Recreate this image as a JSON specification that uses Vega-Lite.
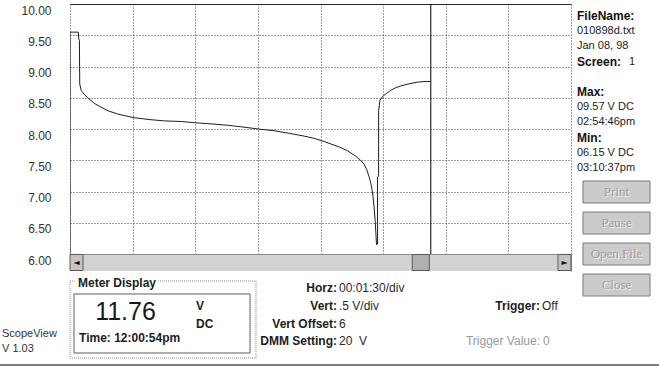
{
  "$schema": "https://vega.github.io/schema/vega-lite/v6.json",
  "background": "white",
  "padding": {"left": 0, "top": 3, "right": 0, "bottom": 0},
  "config": {
    "view": {"stroke": null, "fill": "white"},
    "font": "Liberation Sans",
    "text": {"font": "Liberation Sans", "fontSize": 12, "color": "#1c1c1c", "baseline": "middle", "align": "left"}
  },
  "datasets": {
    "trace": [
      {"i": 0, "t": 0, "v": 6.0}, {"i": 1, "t": 0, "v": 9.55}, {"i": 2, "t": 24, "v": 9.55},
      {"i": 3, "t": 25, "v": 9.44}, {"i": 4, "t": 27, "v": 9.42}, {"i": 5, "t": 28, "v": 8.72},
      {"i": 6, "t": 32, "v": 8.62}, {"i": 7, "t": 40, "v": 8.56}, {"i": 8, "t": 51, "v": 8.50},
      {"i": 9, "t": 70, "v": 8.41}, {"i": 10, "t": 89, "v": 8.35}, {"i": 11, "t": 110, "v": 8.29},
      {"i": 12, "t": 137, "v": 8.24}, {"i": 13, "t": 160, "v": 8.21}, {"i": 14, "t": 185, "v": 8.18},
      {"i": 15, "t": 230, "v": 8.15}, {"i": 16, "t": 271, "v": 8.13}, {"i": 17, "t": 320, "v": 8.12},
      {"i": 18, "t": 360, "v": 8.10}, {"i": 19, "t": 410, "v": 8.08}, {"i": 20, "t": 453, "v": 8.06},
      {"i": 21, "t": 500, "v": 8.03}, {"i": 22, "t": 541, "v": 8.00}, {"i": 23, "t": 590, "v": 7.97},
      {"i": 24, "t": 631, "v": 7.93}, {"i": 25, "t": 670, "v": 7.89}, {"i": 26, "t": 702, "v": 7.85},
      {"i": 27, "t": 730, "v": 7.80}, {"i": 28, "t": 750, "v": 7.76}, {"i": 29, "t": 775, "v": 7.71},
      {"i": 30, "t": 798, "v": 7.65}, {"i": 31, "t": 820, "v": 7.57}, {"i": 32, "t": 835, "v": 7.50},
      {"i": 33, "t": 845, "v": 7.44}, {"i": 34, "t": 853, "v": 7.35}, {"i": 35, "t": 860, "v": 7.23},
      {"i": 36, "t": 866, "v": 7.10}, {"i": 37, "t": 870, "v": 6.96}, {"i": 38, "t": 874, "v": 6.75},
      {"i": 39, "t": 877, "v": 6.55}, {"i": 40, "t": 879, "v": 6.35}, {"i": 41, "t": 881, "v": 6.15},
      {"i": 42, "t": 884, "v": 6.16}, {"i": 43, "t": 884, "v": 7.23}, {"i": 44, "t": 887, "v": 7.25},
      {"i": 45, "t": 887, "v": 8.29}, {"i": 46, "t": 891, "v": 8.46}, {"i": 47, "t": 897, "v": 8.51},
      {"i": 48, "t": 903, "v": 8.54}, {"i": 49, "t": 912, "v": 8.58}, {"i": 50, "t": 922, "v": 8.62},
      {"i": 51, "t": 936, "v": 8.66}, {"i": 52, "t": 951, "v": 8.69}, {"i": 53, "t": 965, "v": 8.71},
      {"i": 54, "t": 980, "v": 8.73}, {"i": 55, "t": 1000, "v": 8.75}, {"i": 56, "t": 1020, "v": 8.76},
      {"i": 57, "t": 1035, "v": 8.76}
    ],
    "cursor": [{"t": 1037}],
    "info": [
      {"line": "fileLabel", "kind": "heading", "text": "FileName:"},
      {"line": "file", "kind": "value", "text": "010898d.txt"},
      {"line": "date", "kind": "value", "text": "Jan 08, 98"},
      {"line": "screen", "kind": "heading", "text": "Screen:"},
      {"line": "screen", "kind": "inline", "text": "1"},
      {"line": "maxLabel", "kind": "heading", "text": "Max:"},
      {"line": "maxValue", "kind": "value", "text": "\u00a009.57 V DC"},
      {"line": "maxTime", "kind": "value", "text": "02:54:46pm"},
      {"line": "minLabel", "kind": "heading", "text": "Min:"},
      {"line": "minValue", "kind": "value", "text": "\u00a006.15 V DC"},
      {"line": "minTime", "kind": "value", "text": "03:10:37pm"}
    ],
    "settings": [
      {"group": "settings", "row": "r1", "label": "Horz:", "value": "00:01:30/div", "state": "on"},
      {"group": "settings", "row": "r2", "label": "Vert:", "value": "\u00a0.5 V/div", "state": "on"},
      {"group": "settings", "row": "r3", "label": "Vert Offset:", "value": "6", "state": "on"},
      {"group": "settings", "row": "r4", "label": "DMM Setting:", "value": "20\u00a0\u00a0V", "state": "on"},
      {"group": "trigger", "row": "r2", "label": "Trigger:", "value": "Off", "state": "on"},
      {"group": "trigger", "row": "r4", "label": "Trigger Value:", "value": "0", "state": "off"}
    ],
    "meter": [
      {"part": "title", "text": "Meter Display"},
      {"part": "reading", "text": "11.76"},
      {"part": "unit", "line": "top", "text": "V"},
      {"part": "unit", "line": "bottom", "text": "DC"},
      {"part": "time", "text": "Time: 12:00:54pm"}
    ],
    "boxes": [{"box": "group"}, {"box": "display"}],
    "buttons": [{"label": "Print"}, {"label": "Pause"}, {"label": "Open File"}, {"label": "Close"}],
    "strip": [{"line": "name", "text": "ScopeView"}, {"line": "version", "text": "V 1.03"}]
  },
  "vconcat": [
    {
      "hconcat": [
        {
          "hconcat": [
            {
              "width": 69, "height": 356,
              "data": {"name": "strip"},
              "resolve": {"scale": {"y": "independent"}},
              "layer": [
                {
                  "transform": [{"filter": "datum.line === 'name'"}],
                  "mark": {"type": "text", "fontSize": 11, "color": "#333333"},
                  "encoding": {
                    "x": {"datum": "left", "type": "nominal", "scale": {"type": "point", "padding": 0, "align": 0.029}, "axis": null},
                    "y": {"field": "line", "type": "nominal", "scale": {"type": "point", "padding": 0, "align": 0.927}, "axis": null},
                    "text": {"field": "text"}
                  }
                },
                {
                  "transform": [{"filter": "datum.line === 'version'"}],
                  "mark": {"type": "text", "fontSize": 11, "color": "#333333"},
                  "encoding": {
                    "x": {"datum": "left", "type": "nominal", "scale": {"type": "point", "padding": 0, "align": 0.029}, "axis": null},
                    "y": {"field": "line", "type": "nominal", "scale": {"type": "point", "padding": 0, "align": 0.969}, "axis": null},
                    "text": {"field": "text"}
                  }
                }
              ]
            },
            {
              "vconcat": [
                {
                  "width": 501, "height": 250,
                  "layer": [
                    {
                      "data": {"name": "trace"},
                      "mark": {"type": "line", "color": "#1e1e1e", "strokeWidth": 1, "clip": true},
                      "encoding": {
                        "x": {"field": "t", "type": "quantitative",
                          "scale": {"domain": [0, 1440], "nice": false, "zero": false},
                          "axis": {"orient": "top", "values": [0, 90, 180, 270, 360, 450, 540, 630, 720, 810, 900, 990, 1080, 1170, 1260, 1350, 1440],
                            "grid": true, "gridColor": "#3c3c3c", "gridDash": [1, 2], "gridWidth": 1, "gridOpacity": 1,
                            "labels": false, "ticks": false, "domain": true, "domainColor": "#2a2a2a", "domainWidth": 1, "title": null}},
                        "y": {"field": "v", "type": "quantitative",
                          "scale": {"domain": [6, 10], "nice": false, "zero": false},
                          "axis": {"values": [6, 6.5, 7, 7.5, 8, 8.5, 9, 9.5, 10], "format": ".2f",
                            "grid": true, "gridColor": "#3c3c3c", "gridDash": [1, 2], "gridWidth": 1, "gridOpacity": 1,
                            "ticks": false, "tickSize": 0, "domain": false, "labelPadding": 19, "labelOffset": 6,
                            "labelFont": "Liberation Sans", "labelFontSize": 12, "labelColor": "#333333",
                            "labelFlush": false, "labelOverlap": false, "labelBound": false, "title": null}},
                        "order": {"field": "i", "type": "quantitative"}
                      }
                    },
                    {
                      "data": {"name": "cursor"},
                      "mark": {"type": "rule", "color": "#000000", "strokeWidth": 1},
                      "encoding": {"x": {"field": "t", "type": "quantitative"}}
                    }
                  ]
                },
                {
                  "width": 501, "height": 17,
                  "view": {"fill": "#d2d2d2", "stroke": "#8a8a8a"},
                  "layer": [
                    {
                      "data": {"name": "cursor"},
                      "mark": {"type": "tick", "thickness": 17, "size": 16, "xOffset": -10, "color": "#b0b0b0", "stroke": "#5a5a5a", "strokeWidth": 1, "opacity": 1},
                      "encoding": {"x": {"field": "t", "type": "quantitative", "scale": {"domain": [0, 1440], "nice": false, "zero": false}, "axis": null}}
                    },
                    {
                      "data": {"values": [{}]},
                      "mark": {"type": "tick", "thickness": 13, "size": 16, "xOffset": 6.5, "color": "#c4c4c4", "stroke": "#5a5a5a", "strokeWidth": 1, "opacity": 1},
                      "encoding": {"x": {"datum": 0, "type": "quantitative"}}
                    },
                    {
                      "data": {"values": [{}]},
                      "mark": {"type": "tick", "thickness": 13, "size": 16, "xOffset": -6.5, "color": "#c4c4c4", "stroke": "#5a5a5a", "strokeWidth": 1, "opacity": 1},
                      "encoding": {"x": {"datum": 1440, "type": "quantitative"}}
                    },
                    {
                      "data": {"values": [{}]},
                      "mark": {"type": "text", "text": "◄", "fontSize": 8, "align": "center", "xOffset": 6.5, "color": "#111111", "font": "DejaVu Sans"},
                      "encoding": {"x": {"datum": 0, "type": "quantitative"}}
                    },
                    {
                      "data": {"values": [{}]},
                      "mark": {"type": "text", "text": "►", "fontSize": 8, "align": "center", "xOffset": -6.5, "color": "#111111", "font": "DejaVu Sans"},
                      "encoding": {"x": {"datum": 1440, "type": "quantitative"}}
                    }
                  ]
                },
                {
                  "width": 501, "height": 89,
                  "resolve": {"scale": {"x": "independent", "y": "independent"}},
                  "layer": [
                    {
                      "data": {"name": "boxes"},
                      "transform": [{"filter": "datum.box === 'group'"}],
                      "mark": {"type": "rect", "fill": "transparent", "stroke": "#8c8c8c", "strokeDash": [1, 1], "strokeWidth": 1},
                      "encoding": {
                        "x": {"field": "box", "type": "nominal", "scale": {"type": "band", "paddingInner": 0, "paddingOuter": 0.847, "align": 0}, "axis": null},
                        "y": {"field": "box", "type": "nominal", "scale": {"type": "band", "paddingInner": 0, "paddingOuter": 0.078, "align": 0.833}, "axis": null}
                      }
                    },
                    {
                      "data": {"name": "boxes"},
                      "transform": [{"filter": "datum.box === 'display'"}],
                      "mark": {"type": "rect", "fill": "white", "stroke": "#5e5e5e", "strokeWidth": 1},
                      "encoding": {
                        "x": {"field": "box", "type": "nominal", "scale": {"type": "band", "paddingInner": 0, "paddingOuter": 0.923, "align": 0.0123}, "axis": null},
                        "y": {"field": "box", "type": "nominal", "scale": {"type": "band", "paddingInner": 0, "paddingOuter": 0.254, "align": 0.767}, "axis": null}
                      }
                    },
                    {
                      "data": {"name": "meter"},
                      "transform": [{"filter": "datum.part === 'title'"}],
                      "mark": {"type": "text", "fontWeight": "bold", "fontSize": 12, "color": "white", "stroke": "white", "strokeWidth": 5},
                      "encoding": {
                        "x": {"field": "part", "type": "nominal", "scale": {"type": "point", "padding": 0, "align": 0.016}, "axis": null},
                        "y": {"field": "part", "type": "nominal", "scale": {"type": "point", "padding": 0, "align": 0.135}, "axis": null},
                        "text": {"field": "text"}
                      }
                    },
                    {
                      "data": {"name": "meter"},
                      "transform": [{"filter": "datum.part === 'title'"}],
                      "mark": {"type": "text", "fontWeight": "bold", "fontSize": 12, "color": "#1c1c1c"},
                      "encoding": {
                        "x": {"field": "part", "type": "nominal", "scale": {"type": "point", "padding": 0, "align": 0.016}, "axis": null},
                        "y": {"field": "part", "type": "nominal", "scale": {"type": "point", "padding": 0, "align": 0.135}, "axis": null},
                        "text": {"field": "text"}
                      }
                    },
                    {
                      "data": {"name": "meter"},
                      "transform": [{"filter": "datum.part === 'reading'"}],
                      "mark": {"type": "text", "fontSize": 25, "align": "center", "color": "#1a1a1a"},
                      "encoding": {
                        "x": {"field": "part", "type": "nominal", "scale": {"type": "point", "padding": 0, "align": 0.1108}, "axis": null},
                        "y": {"field": "part", "type": "nominal", "scale": {"type": "point", "padding": 0, "align": 0.4607}, "axis": null},
                        "text": {"field": "text"}
                      }
                    },
                    {
                      "data": {"name": "meter"},
                      "transform": [{"filter": "datum.part === 'unit'"}],
                      "mark": {"type": "text", "fontWeight": "bold", "fontSize": 12, "color": "#1c1c1c"},
                      "encoding": {
                        "x": {"field": "part", "type": "nominal", "scale": {"type": "point", "padding": 0, "align": 0.2515}, "axis": null},
                        "y": {"field": "line", "type": "nominal", "scale": {"type": "point", "domain": ["above", "top", "bottom", "below"], "padding": 1, "align": 0.4775}, "axis": null},
                        "text": {"field": "text"}
                      }
                    },
                    {
                      "data": {"name": "meter"},
                      "transform": [{"filter": "datum.part === 'time'"}],
                      "mark": {"type": "text", "fontWeight": "bold", "fontSize": 12, "color": "#1c1c1c"},
                      "encoding": {
                        "x": {"field": "part", "type": "nominal", "scale": {"type": "point", "padding": 0, "align": 0.018}, "axis": null},
                        "y": {"field": "part", "type": "nominal", "scale": {"type": "point", "padding": 0, "align": 0.753}, "axis": null},
                        "text": {"field": "text"}
                      }
                    },
                    {
                      "data": {"name": "settings"},
                      "transform": [{"filter": "datum.state === 'on'"}],
                      "mark": {"type": "text", "fontWeight": "bold", "fontSize": 12, "align": "right", "color": "#1c1c1c"},
                      "encoding": {
                        "x": {"field": "group", "type": "nominal", "scale": {"type": "point", "domain": ["settings", "trigger"], "padding": 0.734, "align": 0.896}, "axis": null},
                        "y": {"field": "row", "type": "nominal", "scale": {"type": "point", "domain": ["r1", "r2", "r3", "r4"], "padding": 1, "align": 0.4775}, "axis": null},
                        "text": {"field": "label"}
                      }
                    },
                    {
                      "data": {"name": "settings"},
                      "transform": [{"filter": "datum.state === 'on'"}],
                      "mark": {"type": "text", "fontSize": 12, "align": "left", "dx": 2, "color": "#2a2a2a"},
                      "encoding": {
                        "x": {"field": "group", "type": "nominal", "scale": {"type": "point", "domain": ["settings", "trigger"], "padding": 0.734, "align": 0.896}, "axis": null},
                        "y": {"field": "row", "type": "nominal", "scale": {"type": "point", "domain": ["r1", "r2", "r3", "r4"], "padding": 1, "align": 0.4775}, "axis": null},
                        "text": {"field": "value"}
                      }
                    },
                    {
                      "data": {"name": "settings"},
                      "transform": [{"filter": "datum.state === 'off'"}],
                      "mark": {"type": "text", "fontSize": 12, "align": "right", "color": "#9a9a9a"},
                      "encoding": {
                        "x": {"field": "group", "type": "nominal", "scale": {"type": "point", "domain": ["settings", "trigger"], "padding": 0.734, "align": 0.896}, "axis": null},
                        "y": {"field": "row", "type": "nominal", "scale": {"type": "point", "domain": ["r1", "r2", "r3", "r4"], "padding": 1, "align": 0.4775}, "axis": null},
                        "text": {"field": "label"}
                      }
                    },
                    {
                      "data": {"name": "settings"},
                      "transform": [{"filter": "datum.state === 'off'"}],
                      "mark": {"type": "text", "fontSize": 12, "align": "left", "dx": 3, "color": "#9a9a9a"},
                      "encoding": {
                        "x": {"field": "group", "type": "nominal", "scale": {"type": "point", "domain": ["settings", "trigger"], "padding": 0.734, "align": 0.896}, "axis": null},
                        "y": {"field": "row", "type": "nominal", "scale": {"type": "point", "domain": ["r1", "r2", "r3", "r4"], "padding": 1, "align": 0.4775}, "axis": null},
                        "text": {"field": "value"}
                      }
                    }
                  ]
                }
              ],
              "spacing": 0,
              "bounds": "flush"
            }
          ],
          "spacing": -49,
          "bounds": "full"
        },
        {
          "vconcat": [
            {
              "width": 89, "height": 177,
              "data": {"name": "info"},
              "encoding": {
                "x": {"datum": "left", "type": "nominal", "scale": {"type": "point", "padding": 0, "align": 0}, "axis": null},
                "y": {"field": "line", "type": "nominal", "scale": {"type": "point", "domain": ["fileLabel", "file", "date", "screen", "gap", "maxLabel", "maxValue", "maxTime", "minLabel", "minValue", "minTime"], "padding": 0.82, "align": 0.48}, "axis": null},
                "text": {"field": "text"}
              },
              "layer": [
                {"transform": [{"filter": "datum.kind === 'heading'"}], "mark": {"type": "text", "fontWeight": "bold", "fontSize": 12, "dx": 5, "color": "#111111"}},
                {"transform": [{"filter": "datum.kind === 'value'"}], "mark": {"type": "text", "fontSize": 11, "dx": 5, "color": "#1c1c1c"}},
                {"transform": [{"filter": "datum.kind === 'inline'"}], "mark": {"type": "text", "fontSize": 11, "dx": 57, "color": "#1c1c1c"}}
              ]
            },
            {
              "width": 89, "height": 31,
              "data": {"name": "buttons"},
              "transform": [{"filter": "datum.label === 'Print'"}],
              "encoding": {
                "x": {"field": "label", "type": "nominal", "scale": {"type": "band", "paddingInner": 0, "paddingOuter": 0.164, "align": 0.5}, "axis": null},
                "y": {"field": "label", "type": "nominal", "scale": {"type": "band", "paddingInner": 0, "paddingOuter": 0.2045, "align": 0}, "axis": null},
                "text": {"field": "label"}
              },
              "layer": [
                {"mark": {"type": "rect", "fill": "#cbcbcb", "stroke": "#7a7a7a", "strokeWidth": 1}},
                {"mark": {"type": "text", "align": "center", "font": "Liberation Serif", "fontSize": 13, "color": "#f0f0f0", "dx": 1, "dy": 1}},
                {"mark": {"type": "text", "align": "center", "font": "Liberation Serif", "fontSize": 13, "color": "#9d9d9d"}}
              ]
            },
            {
              "width": 89, "height": 31,
              "data": {"name": "buttons"},
              "transform": [{"filter": "datum.label === 'Pause'"}],
              "encoding": {
                "x": {"field": "label", "type": "nominal", "scale": {"type": "band", "paddingInner": 0, "paddingOuter": 0.164, "align": 0.5}, "axis": null},
                "y": {"field": "label", "type": "nominal", "scale": {"type": "band", "paddingInner": 0, "paddingOuter": 0.2045, "align": 0}, "axis": null},
                "text": {"field": "label"}
              },
              "layer": [
                {"mark": {"type": "rect", "fill": "#cbcbcb", "stroke": "#7a7a7a", "strokeWidth": 1}},
                {"mark": {"type": "text", "align": "center", "font": "Liberation Serif", "fontSize": 13, "color": "#f0f0f0", "dx": 1, "dy": 1}},
                {"mark": {"type": "text", "align": "center", "font": "Liberation Serif", "fontSize": 13, "color": "#9d9d9d"}}
              ]
            },
            {
              "width": 89, "height": 31,
              "data": {"name": "buttons"},
              "transform": [{"filter": "datum.label === 'Open File'"}],
              "encoding": {
                "x": {"field": "label", "type": "nominal", "scale": {"type": "band", "paddingInner": 0, "paddingOuter": 0.164, "align": 0.5}, "axis": null},
                "y": {"field": "label", "type": "nominal", "scale": {"type": "band", "paddingInner": 0, "paddingOuter": 0.2045, "align": 0}, "axis": null},
                "text": {"field": "label"}
              },
              "layer": [
                {"mark": {"type": "rect", "fill": "#cbcbcb", "stroke": "#7a7a7a", "strokeWidth": 1}},
                {"mark": {"type": "text", "align": "center", "font": "Liberation Serif", "fontSize": 13, "color": "#f0f0f0", "dx": 1, "dy": 1}},
                {"mark": {"type": "text", "align": "center", "font": "Liberation Serif", "fontSize": 13, "color": "#9d9d9d"}}
              ]
            },
            {
              "width": 89, "height": 88,
              "data": {"name": "buttons"},
              "transform": [{"filter": "datum.label === 'Close'"}],
              "encoding": {
                "x": {"field": "label", "type": "nominal", "scale": {"type": "band", "paddingInner": 0, "paddingOuter": 0.164, "align": 0.5}, "axis": null},
                "y": {"field": "label", "type": "nominal", "scale": {"type": "band", "paddingInner": 0.333, "paddingOuter": 1, "align": 0}, "axis": null},
                "text": {"field": "label"}
              },
              "layer": [
                {"mark": {"type": "rect", "fill": "#cbcbcb", "stroke": "#7a7a7a", "strokeWidth": 1}},
                {"mark": {"type": "text", "align": "center", "font": "Liberation Serif", "fontSize": 13, "color": "#f0f0f0", "dx": 1, "dy": 1}},
                {"mark": {"type": "text", "align": "center", "font": "Liberation Serif", "fontSize": 13, "color": "#9d9d9d"}}
              ]
            }
          ],
          "spacing": 0,
          "bounds": "flush"
        }
      ],
      "spacing": 0,
      "bounds": "full"
    },
    {"width": 659, "height": 2, "view": {"fill": "#7d7d7d", "stroke": null}, "data": {"values": [{}]}, "mark": {"type": "point", "opacity": 0}, "encoding": {}}
  ],
  "spacing": 0,
  "bounds": "full"
}
